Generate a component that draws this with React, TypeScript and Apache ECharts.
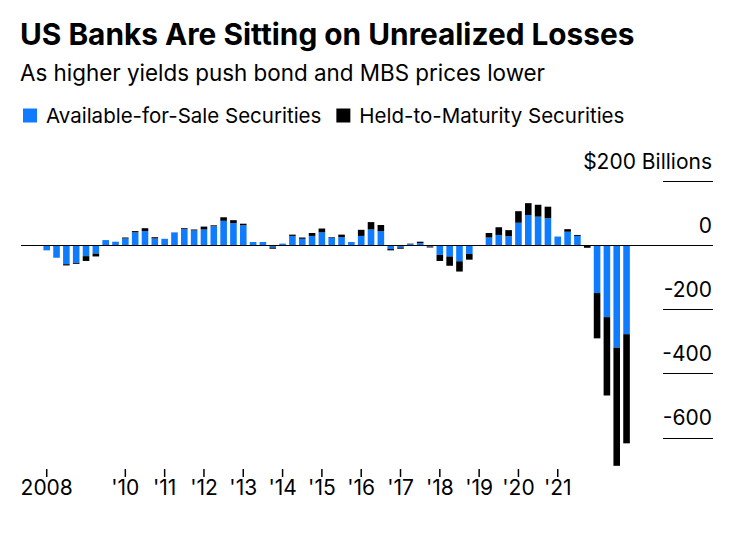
import React, { useEffect, useRef } from "react";
import * as echarts from "echarts";

// Quarterly observations, 2008 Q1 .. 2022 Q4
const quarters: string[] = [];
for (let y = 2008; y <= 2022; y++) for (let q = 1; q <= 4; q++) quarters.push(`${y} Q${q}`);

// Available-for-Sale unrealized gains/losses ($bn)
const afsValues = [
  -16, -39, -59, -55,
  -34, -26, 16, 11,
  21, 40, 44, 21,
  20, 40, 50, 46,
  49, 59, 76, 69,
  62, 10, 10, -7,
  5, 29, 20, 29,
  40, 23, 25, 10,
  29, 49, 44, -12,
  -7, 4, 7, -4,
  -30, -35, -50, -27,
  0, 24, 32, 28,
  70, 94, 89, 84,
  27, 42, 29, -2,
  -149, -224, -319, -277,
];

// Held-to-Maturity unrealized gains/losses ($bn)
const htmValues = [
  0, 0, -4, -3,
  -15, -9, 0, 0,
  3, 4, 9, 4,
  0, 0, 3, 3,
  9, 3, 11, 9,
  5, 0, 0, -4,
  0, 4, 4, 9,
  12, 2, 8, 0,
  19, 23, 19, -4,
  -4, 1, 4, -3,
  -19, -29, -32, -18,
  -1, 14, 24, 19,
  36, 37, 37, 36,
  0, 8, 3, -6,
  -141, -244, -368, -340,
];

// year axis (tick marks / labels), 2009 is left unlabelled in the original
const axisYears = ["2008", "2009", "2010", "2011", "2012", "2013", "2014", "2015", "2016", "2017", "2018", "2019", "2020", "2021"];
const tickYears = ["2008", "2010", "2011", "2012", "2013", "2014", "2015", "2016", "2017", "2018", "2019", "2020", "2021"];
const yTicks = [200, 0, -200, -400, -600];
const Y_MIN = -700;
const Y_MAX = 200;

const seriesNames = ["Available-for-Sale Securities", "Held-to-Maturity Securities"];
const BLUE = "#0F7BFF";
const BLACK = "#000000";
const FONT = 'Inter, "Liberation Sans", sans-serif';

function quarterToX(label: string): number {
  const [y, q] = label.split(" Q");
  return Number(y) + (Number(q) - 1) / 4;
}

// horizontal geometry: one year = 39.31px, 2008 Q1 centred at x = 46.7
const X_MIN = 2007.346;
const X_MAX = 2024.949;
const PX_LEFT = 21;
const PX_RIGHT = 713;
const pxPerYear = (PX_RIGHT - PX_LEFT) / (X_MAX - X_MIN);
const yearToPx = (v: number) => PX_LEFT + (v - X_MIN) * pxPerYear;

export default function App() {
  const ref = useRef<HTMLDivElement>(null);

  useEffect(() => {
    if (!ref.current) return;
    const chart = echarts.init(ref.current, null, { renderer: "svg" });

    const xs = quarters.map(quarterToX);
    // value first, so that stacking happens on the value (y) dimension
    const afsData = xs.map((x, i) => [afsValues[i], x]);
    const htmData = xs.map((x, i) => [htmValues[i], x]);

    const firstYear = Number(axisYears[0]);
    const lastYear = Number(axisYears[axisYears.length - 1]);
    const showYear = (_i: number, v: string) => tickYears.includes(v);

    const option: any = {
      animation: false,
      backgroundColor: "#ffffff",
      textStyle: { fontFamily: FONT },
      graphic: [
        {
          type: "text",
          x: 20,
          y: 34,
          style: {
            text: "US Banks Are Sitting on Unrealized Losses",
            fontSize: 29.8,
            fontWeight: "bold",
            fontFamily: FONT,
            fill: "#000",
            verticalAlign: "middle",
            align: "left",
          },
        },
        {
          type: "text",
          x: 20,
          y: 72,
          style: {
            text: "As higher yields push bond and MBS prices lower",
            fontSize: 22.4,
            fontFamily: FONT,
            fill: "#000",
            verticalAlign: "middle",
            align: "left",
          },
        },
      ],
      legend: {
        data: seriesNames,
        left: 23,
        top: 105,
        padding: 0,
        icon: "rect",
        itemWidth: 14,
        itemHeight: 14,
        itemGap: 15,
        selectedMode: false,
        textStyle: { fontSize: 20.5, color: "#000", fontFamily: FONT, padding: [0, 0, 0, 4] },
      },
      grid: [
        { left: PX_LEFT, right: 737 - PX_RIGHT, top: 181, bottom: 64, containLabel: false },
        { left: 663, right: 737 - PX_RIGHT, top: 181, bottom: 96.1, containLabel: false },
        {
          // strip under the plot that carries the year ticks and labels
          left: yearToPx(firstYear),
          right: 737 - yearToPx(lastYear),
          top: 469,
          bottom: 57,
          containLabel: false,
        },
      ],
      xAxis: [
        { type: "value", gridIndex: 0, min: X_MIN, max: X_MAX, show: false },
        { type: "value", gridIndex: 1, min: 0, max: 1, show: false },
        {
          type: "category",
          gridIndex: 2,
          data: axisYears,
          boundaryGap: false,
          position: "bottom",
          axisLine: { show: false },
          axisTick: { show: false },
          splitLine: { show: false },
          axisLabel: {
            interval: showYear,
            margin: 0,
            fontSize: 21,
            color: "#000",
            fontFamily: FONT,
            formatter: (v: string) => (v === "2008" ? "2008" : "'" + v.slice(2)),
          },
        },
      ],
      yAxis: [
        { type: "value", gridIndex: 0, min: Y_MIN, max: Y_MAX, show: false, splitLine: { show: false } },
        {
          type: "value",
          gridIndex: 1,
          position: "right",
          min: yTicks[yTicks.length - 1],
          max: yTicks[0],
          interval: 200,
          axisLine: { show: false },
          axisTick: { show: false },
          splitLine: { show: true, lineStyle: { color: "#000", width: 1.2 } },
          axisLabel: {
            inside: true,
            margin: 1,
            align: "right",
            verticalAlign: "bottom",
            lineHeight: 40,
            fontSize: 21,
            color: "#000",
            fontFamily: FONT,
            formatter: (v: number) => (v === 200 ? "$200 Billions" : String(v)),
          },
        },
        { type: "value", gridIndex: 2, min: 0, max: 1, show: false },
      ],
      series: [
        {
          name: seriesNames[0],
          type: "bar",
          xAxisIndex: 0,
          yAxisIndex: 0,
          stack: "total",
          barWidth: 6.6,
          encode: { x: 1, y: 0 },
          itemStyle: { color: BLUE },
          data: afsData,
          markLine: {
            silent: true,
            symbol: ["none", "none"],
            label: { show: false },
            lineStyle: { color: "#000", width: 1.2, type: "solid" },
            data: [{ yAxis: 0 }],
          },
        },
        {
          name: seriesNames[1],
          type: "bar",
          xAxisIndex: 0,
          yAxisIndex: 0,
          stack: "total",
          barWidth: 6.6,
          encode: { x: 1, y: 0 },
          itemStyle: { color: BLACK },
          data: htmData,
        },
        {
          // year tick marks: thin bars filling the 8px strip under the plot
          name: "year ticks",
          type: "bar",
          xAxisIndex: 2,
          yAxisIndex: 2,
          silent: true,
          z: 10,
          barWidth: 1.5,
          itemStyle: { color: "#000" },
          data: axisYears.map((y) => (tickYears.includes(y) ? 1 : null)),
        },
      ],
    };

    chart.setOption(option);
    return () => chart.dispose();
  }, []);

  return (
    <div
      ref={ref}
      style={{ position: "absolute", left: 0, top: 0, width: 737, height: 534, background: "#fff" }}
    />
  );
}
